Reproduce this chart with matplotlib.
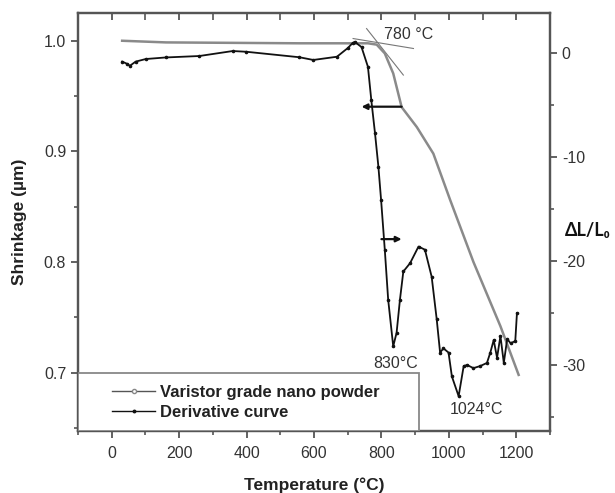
import matplotlib
matplotlib.use("Agg")
import matplotlib.pyplot as plt
from matplotlib.lines import Line2D
from matplotlib.patches import Rectangle
from matplotlib.ticker import MultipleLocator, FormatStrFormatter

# ---- data ----
temp_shrink = [31, 161, 557, 716, 760, 786, 810, 835, 860, 905, 954, 1004, 1073, 1153, 1207]
shrink = [1.000, 0.9985, 0.9977, 0.9977, 0.9977, 0.9965, 0.9886, 0.9705, 0.940, 0.922,
          0.898, 0.856, 0.800, 0.742, 0.698]

temp_deriv = [31, 45, 54, 71, 101, 160, 260, 359, 399, 557, 598, 668, 700, 715, 721, 741,
              760, 770, 781, 791, 799, 810, 820, 835, 845, 855, 865, 885, 910, 929, 949,
              964, 974, 984, 999, 1009, 1029, 1044, 1054, 1073, 1093, 1113, 1123, 1133,
              1143, 1153, 1163, 1173, 1183, 1197, 1202]
deriv = [-0.8, -1.0, -1.2, -0.8, -0.55, -0.4, -0.26, 0.22, 0.15, -0.38, -0.64, -0.33, 0.5,
         1.0, 1.1, 0.6, -1.3, -4.5, -7.7, -10.9, -14.1, -18.9, -23.7, -28.2, -26.9, -23.7,
         -21.0, -20.2, -18.6, -18.9, -21.5, -25.6, -28.8, -28.4, -28.8, -31.1, -33.0, -30.1,
         -30.0, -30.3, -30.1, -29.8, -28.8, -27.6, -29.3, -27.2, -29.8, -27.5, -27.9, -27.7,
         -25.0]

tangent1_T = [716, 895]
tangent1_y = [1.002, 0.993]
tangent2_T = [756, 865]
tangent2_y = [1.011, 0.969]

x_ticks = [0, 200, 400, 600, 800, 1000, 1200]
left_ticks = [0.7, 0.8, 0.9, 1.0]
right_ticks = [-30, -20, -10, 0]

labels = ["Varistor grade nano powder", "Derivative curve"]

# ---- figure ----
plt.rcParams['font.family'] = ['Liberation Sans', 'DejaVu Sans']
plt.rcParams['axes.unicode_minus'] = False
fig = plt.figure(figsize=(6.15, 4.93), dpi=100)
ax = fig.add_axes([0.1268, 0.1258, 0.7675, 0.8472])
ax2 = ax.twinx()

spine_c = '#555555'
tick_c = '#333333'

ax.plot(temp_shrink, shrink, color='#8a8a8a', lw=1.8, zorder=3)
ax.plot(tangent1_T, tangent1_y, color='#777777', lw=0.8)
ax.plot(tangent2_T, tangent2_y, color='#777777', lw=0.8)

ax2.plot(temp_deriv, deriv, color='#111111', lw=1.3, marker='o', ms=1.6, zorder=3)

ax.set_xlim(-100, 1300)
ax.set_ylim(0.6473, 1.0248)
ax2.set_ylim(-36.35, 3.85)

ax.set_xticks(x_ticks)
ax.xaxis.set_minor_locator(MultipleLocator(100))
ax.set_yticks(left_ticks)
ax.yaxis.set_minor_locator(MultipleLocator(0.05))
ax2.set_yticks(right_ticks)
ax2.yaxis.set_minor_locator(MultipleLocator(5))

lab_size = 11.5
ax.tick_params(axis='x', which='major', direction='out', length=5, width=1.3,
               colors=spine_c, labelcolor=tick_c, labelsize=lab_size, top=True, pad=6)
ax.tick_params(axis='x', which='minor', direction='out', length=3, width=1.2,
               colors=spine_c, top=True)
ax.tick_params(axis='y', which='major', direction='out', length=5, width=1.3,
               colors=spine_c, labelcolor=tick_c, labelsize=lab_size)
ax.tick_params(axis='y', which='minor', direction='out', length=3, width=1.2, colors=spine_c)
ax2.tick_params(axis='y', which='major', direction='out', length=5, width=1.3,
                colors=spine_c, labelcolor=tick_c, labelsize=lab_size)
ax2.tick_params(axis='y', which='minor', direction='out', length=3, width=1.2, colors=spine_c)
# top ticks point inward
for t in ax.xaxis.get_major_ticks() + ax.xaxis.get_minor_ticks():
    t.tick2line.set_marker(3)
    t.tick2line.set_markersize(5)

for a in (ax, ax2):
    for s in a.spines.values():
        s.set_color(spine_c)
        s.set_linewidth(1.6)

ax.yaxis.set_major_formatter(FormatStrFormatter('%.1f'))

ax.set_xlabel("Temperature (°C)", fontsize=12.5, fontweight='bold', color='#222222', labelpad=12)
ax.set_ylabel("Shrinkage (µm)", fontsize=12.5, fontweight='bold', color='#222222', labelpad=12)
fig.text(0.955, 0.533, "ΔL/L₀", fontsize=13, fontweight='bold', color='#111111',
         ha='center', va='center', family=['Lato', 'DejaVu Sans'])

# annotations
ann_c = '#333333'
ax.text(882, 1.006, "780 °C", fontsize=11.5, color=ann_c, ha='center', va='center')
ax.text(843, 0.708, "830°C", fontsize=11.5, color=ann_c, ha='center', va='center')
ax.text(1081, 0.667, "1024°C", fontsize=11.5, color=ann_c, ha='center', va='center')
ax.annotate("", xy=(741, 0.9404), xytext=(860, 0.9404),
            arrowprops=dict(arrowstyle='-|>', color='#111111', lw=1.6, mutation_scale=8,
                            shrinkA=0, shrinkB=0))
ax.annotate("", xy=(860, 0.8207), xytext=(800, 0.8207),
            arrowprops=dict(arrowstyle='-|>', color='#111111', lw=1.6, mutation_scale=8,
                            shrinkA=0, shrinkB=0))

# legend box
rect = Rectangle((0, 0), 0.722, 0.14, transform=ax2.transAxes, facecolor='white',
                 edgecolor='#888888', lw=1.3, zorder=5)
ax2.add_patch(rect)
handles = [Line2D([], [], color='#555555', lw=1.0, marker='o', ms=3, mfc='white',
                  mec='#888888'),
           Line2D([], [], color='#111111', lw=1.0, marker='o', ms=1.8)]
leg = ax2.legend(handles, labels, loc='center left', bbox_to_anchor=(0.072, 0.068),
                 frameon=False, handlelength=2.6, handletextpad=0.3, labelspacing=0.3,
                 borderpad=0, borderaxespad=0,
                 prop={'weight': 'bold', 'size': 12})
leg.set_zorder(6)
for txt in leg.get_texts():
    txt.set_color('#222222')

fig.savefig("out.png", dpi=100)
